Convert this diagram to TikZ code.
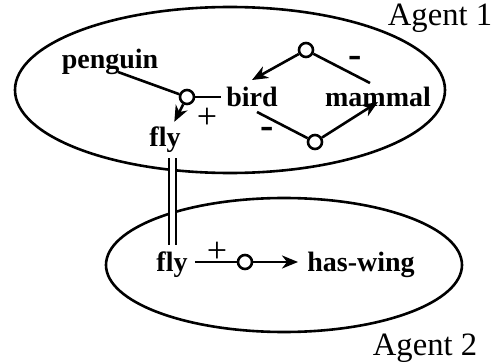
\documentclass[tikz,border=0pt]{standalone}
\usepackage{fontspec}
\setmainfont{Liberation Serif}
\usetikzlibrary{arrows.meta,shapes.geometric}

\begin{document}
\begin{tikzpicture}[
  x=0.5pt, y=-0.5pt,
  line width=1.3pt,
  concept/.style={font=\fontsize{14}{16}\selectfont\bfseries, inner sep=2pt},
  agent/.style={draw, ellipse, inner sep=0pt},
  tag/.style={font=\fontsize{16.3}{19}\selectfont},
  sign/.style={font=\fontsize{18}{20}\selectfont, inner sep=0pt},
  minus/.style={font=\fontsize{20}{22}\selectfont\bfseries, inner sep=0pt},
  link/.style={circle, draw, fill=white, inner sep=0pt, minimum size=7pt},
  arr/.style={-{Stealth[length=8pt, width=6.5pt, inset=2.5pt]}}]
  \useasboundingbox (0,0) rectangle (494,364);
  % the two agents
  \node[agent, minimum width=215pt, minimum height=83pt] (ag1) at (230,90) {};
  \node[agent, minimum width=178pt, minimum height=67pt] (ag2) at (284,265) {};
  \node[tag] (lab1) at (440,18) {Agent 1};
  \node[tag] (lab2) at (425,348) {Agent 2};
  % concepts
  \node[concept] (penguin) at (110,62) {penguin};
  \node[concept] (bird) at (252,97) {bird};
  \node[concept] (mammal) at (378,97) {mammal};
  \node[concept] (fly1) at (165,140) {fly};
  \node[concept, inner sep=3pt] (fly2) at (172,265) {fly};
  \node[concept, inner sep=4pt] (wing) at (361,265) {has-wing};
  % links
  \node[link] (c1) at (187,97) {};
  \node[link] (c2) at (306,50) {};
  \node[link] (c3) at (315,142) {};
  \node[link] (c4) at (245,262) {};
  \coordinate (pe) at (118,72);
  \coordinate (bu) at (252,80);
  \coordinate (bd) at (257,112);
  \coordinate (mu) at (370,83);
  \coordinate (md) at (378,102);
  \draw (pe) -- (c1);
  \draw (c1) -- (bird);
  \draw[arr] (c1) -- (fly1);
  \node[sign] (p1) at (207,118) {+};
  \draw[arr] (c2) -- (bu);
  \draw (c2) -- (mu);
  \node[minus] (m1) at (355,62) {-};
  \draw (bd) -- (c3);
  \draw[arr] (c3) -- (md);
  \node[minus] (m2) at (267,133) {-};
  % shared concept
  \draw[double, double distance=2.5pt, line width=1pt] (fly2.north |- fly1.south) -- (fly2.north);
  \draw (fly2.east |- c4) -- (c4);
  \draw[arr] (c4) -- (c4 -| wing.west);
  \node[sign] (p2) at (217,252) {+};
\end{tikzpicture}
\end{document}
